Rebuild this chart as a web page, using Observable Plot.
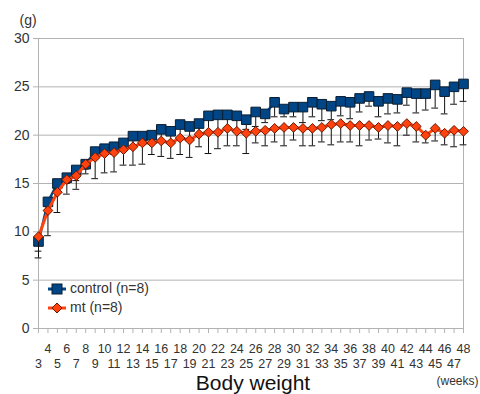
<!DOCTYPE html>
<html>
<head>
<meta charset="utf-8">
<script src="https://cdn.jsdelivr.net/npm/d3@7"></script>
<script src="https://cdn.jsdelivr.net/npm/@observablehq/plot@0.6"></script>
<style>
  html, body { margin: 0; padding: 0; background: #fff; }
  #wrap { position: relative; width: 480px; height: 394px; font-family: "Liberation Sans", Arial, sans-serif; }
  #legend { position: absolute; left: 47px; top: 279px; font-size: 14px; color: #333; line-height: 19px; }
  #legend div { display: flex; align-items: center; height: 19px; }
  #legend svg { margin-right: 3px; }
</style>
</head>
<body>
<div id="wrap"></div>
<script>
const weeks = [3,4,5,6,7,8,9,10,11,12,13,14,15,16,17,18,19,20,21,22,23,24,25,26,27,28,29,30,31,32,33,34,35,36,37,38,39,40,41,42,43,44,45,46,47,48];
const control = [9.0,13.1,15.0,15.6,16.4,17.0,18.3,18.6,18.8,19.2,19.9,19.9,20.0,20.6,20.4,21.1,20.9,21.2,22.0,22.1,22.1,22.0,21.6,22.4,22.2,23.4,22.7,22.9,22.9,23.4,23.2,23.0,23.5,23.4,23.8,24.0,23.5,23.8,23.7,24.4,24.3,24.3,25.2,24.5,25.0,25.3];
const controlLow = [7.3,12.3,14.2,15.0,15.3,16.5,17.6,17.9,18.0,18.4,18.8,19.0,19.1,19.3,19.1,19.6,19.4,20.0,20.2,20.2,20.6,20.3,20.6,20.9,21.3,21.9,21.9,21.9,21.3,21.9,21.5,21.6,22.0,21.7,22.4,23.0,21.9,22.2,22.3,23.1,22.3,22.6,22.8,22.2,23.2,23.5];
const mt = [9.5,12.2,14.1,15.4,15.8,17.0,17.7,18.1,18.2,18.5,18.8,19.2,19.2,19.4,19.2,19.7,19.5,20.1,20.3,20.3,20.7,20.4,20.2,20.4,20.5,20.7,20.8,20.8,20.7,20.7,20.8,21.1,21.2,21.0,21.0,21.0,20.8,21.0,20.9,21.2,20.9,20.0,20.7,20.2,20.5,20.4];
const mtLow = [8.0,9.6,12.0,13.9,14.4,16.0,15.5,16.1,16.2,16.9,16.9,17.0,18.0,17.8,17.6,18.0,17.7,18.8,18.1,18.6,18.9,18.9,18.1,19.2,18.9,19.3,18.9,19.5,18.9,18.9,19.3,19.0,19.3,19.3,18.9,19.5,19.6,19.2,18.9,20.0,19.3,19.2,19.4,19.0,18.8,19.0];
const yTicks = [0,5,10,15,20,25,30];
const evenWeeks = weeks.filter(w => w % 2 === 0);
const oddWeeks = weeks.filter(w => w % 2 === 1);
const seriesNames = ["control (n=8)", "mt (n=8)"];
const colors = {control: "#004586", mt: "#ff420e"};

const data = weeks.map((w, i) => ({week: w, control: control[i], controlLow: controlLow[i], mt: mt[i], mtLow: mtLow[i]}));
const capHalf = 0.36;

const chart = Plot.plot({
  width: 480,
  height: 394,
  marginLeft: 38,
  marginRight: 17,
  marginTop: 38,
  marginBottom: 66,
  style: {fontFamily: "Liberation Sans, Arial, sans-serif", background: "#fff", overflow: "visible"},
  x: {domain: [3, 48]},
  y: {domain: [0, 30]},
  marks: [
    Plot.gridY(yTicks, {stroke: "#b3b3b3", strokeOpacity: 1}),
    Plot.frame({stroke: "#b3b3b3"}),
    Plot.axisY({ticks: yTicks, tickSize: 5, tickPadding: 4, fontSize: 14, stroke: "#b3b3b3", fill: "#333", label: null}),
    Plot.axisX({ticks: weeks, tickSize: 5, tickFormat: () => "", stroke: "#b3b3b3", label: null}),
    Plot.axisX({ticks: evenWeeks, tickSize: 0, tickPadding: 16, fontSize: 12.5, fill: "#333", label: null}),
    Plot.axisX({ticks: oddWeeks, tickSize: 0, tickPadding: 31, fontSize: 12.5, fill: "#333", label: null}),
    // control series
    Plot.line(data, {x: "week", y: "control", stroke: colors.control, strokeWidth: 2.5}),
    Plot.ruleX(data, {x: "week", y1: "control", y2: "controlLow", stroke: "#111", strokeWidth: 1}),
    Plot.ruleY(data, {y: "controlLow", x1: d => d.week - capHalf, x2: d => d.week + capHalf, stroke: "#111", strokeWidth: 1}),
    Plot.dot(data, {x: "week", y: "control", symbol: "square", r: 5.4, fill: colors.control, stroke: "#0b1e30", strokeWidth: 1}),
    // mt series
    Plot.line(data, {x: "week", y: "mt", stroke: colors.mt, strokeWidth: 3}),
    Plot.ruleX(data, {x: "week", y1: "mt", y2: "mtLow", stroke: "#111", strokeWidth: 1}),
    Plot.ruleY(data, {y: "mtLow", x1: d => d.week - capHalf, x2: d => d.week + capHalf, stroke: "#111", strokeWidth: 1}),
    Plot.dot(data, {x: "week", y: "mt", symbol: "diamond2", r: 4.4, fill: colors.mt, stroke: "#6b1a00", strokeWidth: 1}),
    // texts
    Plot.text(["Body weight"], {frameAnchor: "bottom", dx: 2, dy: 54.5, fontSize: 21, fill: "#111", lineAnchor: "middle"}),
    Plot.text(["(weeks)"], {frameAnchor: "bottom-right", dx: 15, dy: 53, fontSize: 12, fill: "#333", textAnchor: "end", lineAnchor: "middle"}),
    Plot.text(["(g)"], {frameAnchor: "top-left", dx: -19, dy: -18, fontSize: 14, fill: "#333", lineAnchor: "middle"})
  ]
});

const wrap = document.getElementById("wrap");
wrap.appendChild(chart);

const legend = document.createElement("div");
legend.id = "legend";
legend.innerHTML = `
<div><svg width="20" height="12"><line x1="1" y1="6" x2="19" y2="6" stroke="${colors.control}" stroke-width="3"/><rect x="5" y="1" width="10" height="10" fill="${colors.control}" stroke="#0b1e30"/></svg><span>${seriesNames[0]}</span></div>
<div><svg width="20" height="12"><line x1="1" y1="6" x2="19" y2="6" stroke="${colors.mt}" stroke-width="3"/><path d="M10 1 L15 6 L10 11 L5 6 Z" fill="${colors.mt}" stroke="#6b1a00"/></svg><span>${seriesNames[1]}</span></div>`;
wrap.appendChild(legend);
</script>
</body>
</html>
